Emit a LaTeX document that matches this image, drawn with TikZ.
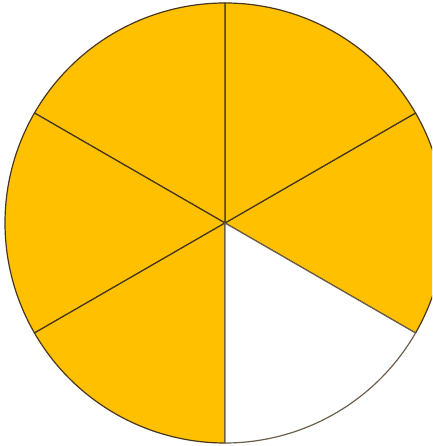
\documentclass[tikz,border=0pt]{standalone}
\definecolor{gold}{RGB}{255,192,0}
\definecolor{rim}{RGB}{70,55,30}
\begin{document}
\begin{tikzpicture}[x=1pt, y=1pt,
  slice/.style={fill=gold, draw=rim, line width=1.2pt, line join=round},
  blank/.style={slice, fill=white, draw=rim!80}
]
\useasboundingbox (0,0) rectangle (432,446);
\clip (0,0) rectangle (432,446);

\coordinate (centre) at (225,223);

% Five filled sixths.
\foreach \a in {-30,30,90,150,210}{
  \draw[slice] (centre) -- ++(\a:220)
    arc[start angle=\a, end angle=\a+60, radius=220] -- cycle;
}

% The one sixth left empty.
\draw[blank] (centre) -- ++(-90:220)
  arc[start angle=-90, end angle=-30, radius=220] -- cycle;

\end{tikzpicture}
\end{document}
